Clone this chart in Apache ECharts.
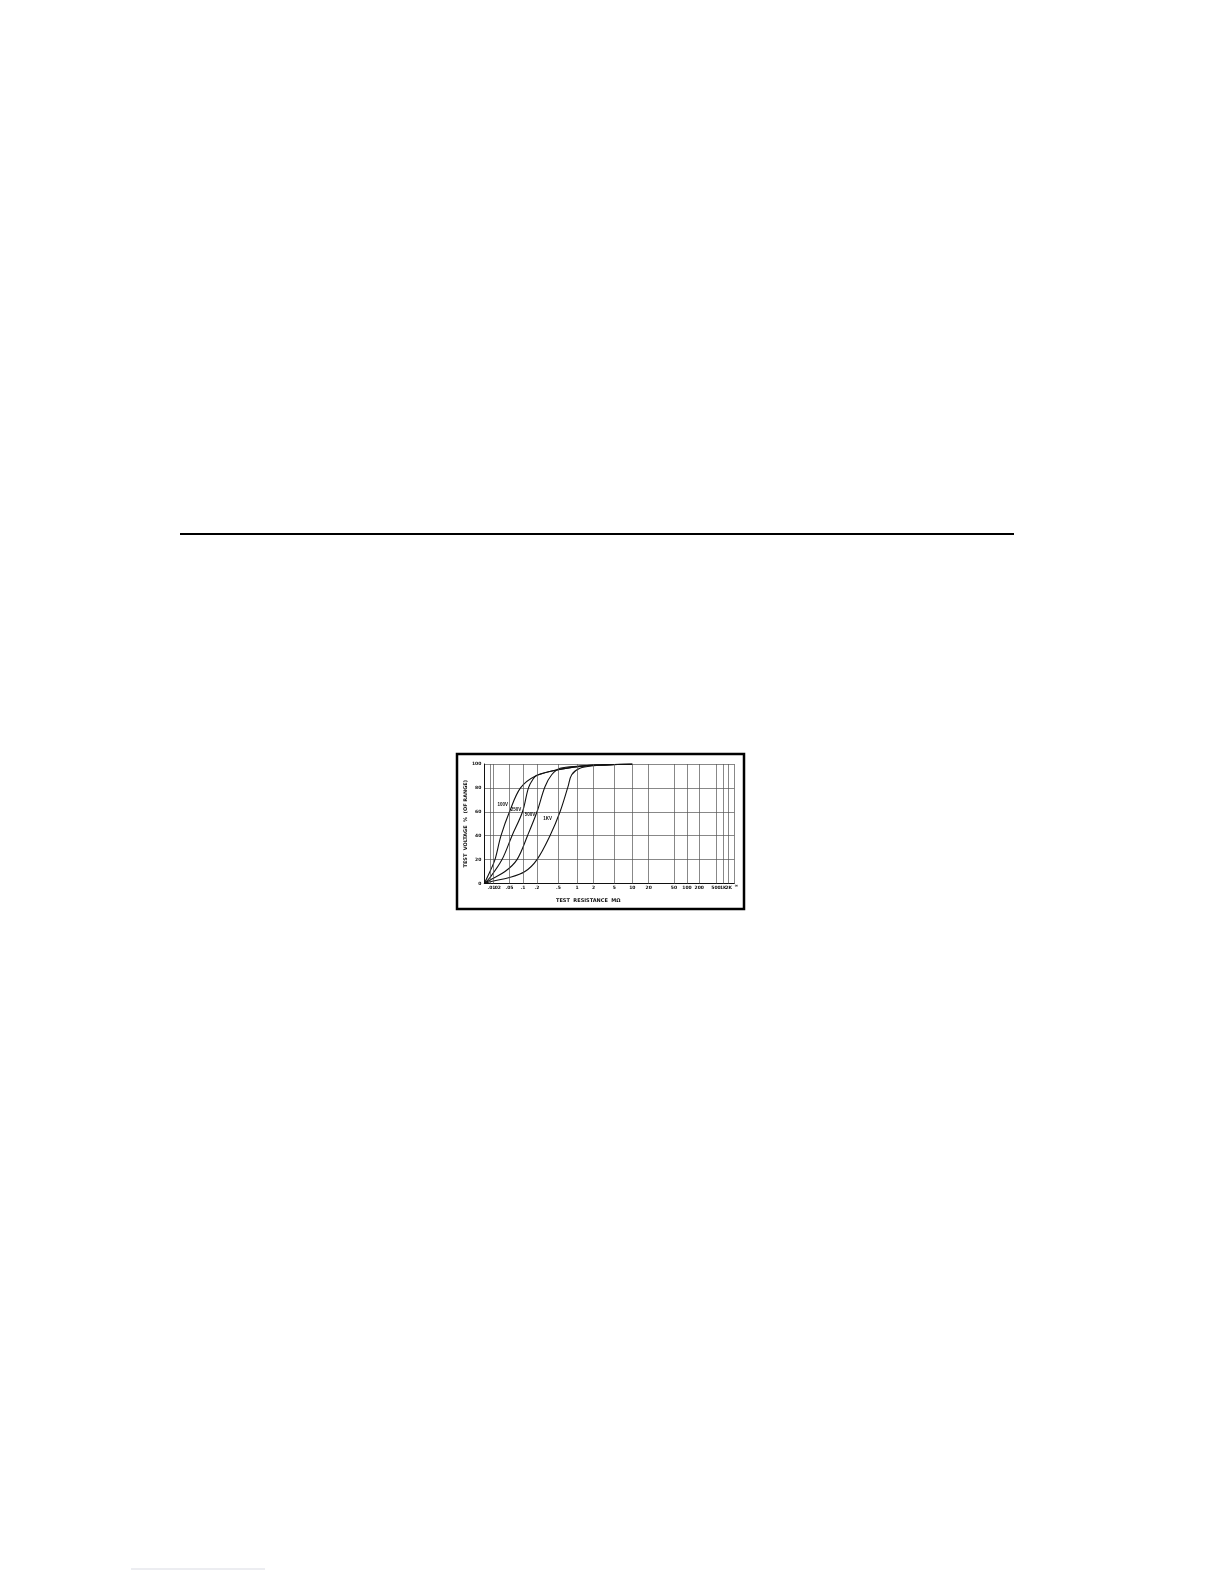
<!DOCTYPE html>
<html>
<head>
<meta charset="utf-8">
<script src="https://cdn.jsdelivr.net/npm/echarts/dist/echarts.min.js"></script>
<style>
  html, body { margin: 0; padding: 0; background: #fff; }
  #page { width: 1224px; height: 1584px; }
</style>
</head>
<body>
<div id="page"></div>
<script>
// x tick marks of the meter scale (megohms) and their printed labels
const tickValues = [0.01, 0.02, 0.05, 0.1, 0.2, 0.5, 1, 2, 5, 10, 20, 50, 100, 200, 500, 1000, 2000, Infinity]
const tickLabels = ['.01', '.02', '.05', '.1', '.2', '.5', '1', '2', '5', '10', '20', '50', '100', '200', '500', '1K', '2K', '∞']
const yTicks = [0, 20, 40, 60, 80, 100]

// curves: test resistance (MΩ) -> test voltage (% of range)
const curveNames = ['100V', '250V', '500V', '1KV']
const res100V = [0, 0.01, 0.0223, 0.0312, 0.05, 0.088, 0.186, 0.463, 1.13, 2.66, 5, 10]
const pct100V = [0, 10, 20, 40, 60, 80, 90, 95, 98, 99.2, 99.6, 100]
const res250V = [0, 0.01, 0.033, 0.0569, 0.0975, 0.131, 0.165, 0.2, 0.463, 1.13, 2.66, 5, 10]
const pct250V = [0, 5, 20, 40, 60, 80, 87.5, 90.5, 95, 98, 99.2, 99.6, 100]
const res500V = [0, 0.01, 0.039, 0.0735, 0.125, 0.2, 0.281, 0.374, 0.529, 1.13, 2.66, 5, 10]
const pct500V = [0, 3, 10, 20, 40, 60, 81, 91, 96.4, 98.2, 99.2, 99.6, 100]
const res1KV = [0, 0.01, 0.05, 0.11, 0.2, 0.348, 0.53, 0.714, 0.82, 1.13, 2, 5, 10]
const pct1KV = [0, 1.5, 5, 10, 20, 40, 60, 81, 91, 96.4, 98.5, 99.5, 100]
// where each curve name is printed [MΩ, %]
const curveLabelAt = [[0.0345, 65.7], [0.0697, 62.1], [0.141, 57.2], [0.313, 54.4]]

// the printed scale is not a clean log scale: calibration of each mark along the axis (0..250)
const scaleStops = [
  [0, 0], [0.01, 5.7], [0.02, 8.7], [0.05, 25.2], [0.1, 38.7], [0.2, 52.7], [0.5, 74.2],
  [1, 92.7], [2, 109.2], [5, 130], [10, 148], [20, 164.4], [50, 189.7], [100, 202.7],
  [200, 215], [500, 231.7], [1000, 239], [2000, 244.4], [Infinity, 250]
]
function toAxis(r) {
  for (let i = 1; i < scaleStops.length; i++) {
    const [r0, p0] = scaleStops[i - 1]
    const [r1, p1] = scaleStops[i]
    if (r <= r1) {
      let f
      if (r0 === 0) f = r / r1
      else if (r1 === Infinity) f = 1 - r0 / r
      else f = Math.log(r / r0) / Math.log(r1 / r0)
      return p0 + (p1 - p0) * f
    }
  }
  return 250
}

const curveRes = [res100V, res250V, res500V, res1KV]
const curvePct = [pct100V, pct250V, pct500V, pct1KV]
const font = 'DejaVu Sans'

const series = curveNames.map((name, i) => ({
  name: name,
  type: 'line',
  smooth: 0.35,
  showSymbol: false,
  silent: true,
  lineStyle: { color: '#111', width: 1.1 },
  data: curveRes[i].map((r, j) => [toAxis(r), curvePct[i][j]])
}))

// curve names written beside the curves
series.push({
  type: 'scatter',
  silent: true,
  symbolSize: 2,
  itemStyle: { color: 'rgba(0,0,0,0)' },
  label: {
    show: true,
    position: 'inside',
    opacity: 1,
    formatter: p => p.name,
    color: '#111',
    fontFamily: 'Liberation Sans',
    fontWeight: 'bold',
    fontSize: 4.5
  },
  labelLayout: { hideOverlap: false },
  data: curveNames.map((name, i) => ({ name: name, value: [toAxis(curveLabelAt[i][0]), curveLabelAt[i][1]] }))
})

// vertical rulings with the resistance labels underneath
series.push({
  type: 'line',
  data: [],
  silent: true,
  markLine: {
    symbol: 'none',
    silent: true,
    animation: false,
    lineStyle: { color: '#555', width: 0.7, type: 'solid' },
    label: {
      show: true,
      position: 'start',
      distance: 2,
      color: '#111',
      fontFamily: font,
      fontWeight: 'bold',
      fontSize: 4.5
    },
    data: tickValues.map((v, i) => {
      let off = [0, 0]
      if (tickLabels[i] === '.01') off = [1.5, 0]
      if (tickLabels[i] === '.02') off = [4, 0]
      if (tickLabels[i] === '∞') off = [2, -2]
      return { xAxis: toAxis(v), label: { formatter: tickLabels[i], offset: off } }
    })
  }
})

const chart = echarts.init(document.getElementById('page'))
chart.setOption({
  animation: false,
  backgroundColor: '#fff',
  grid: { left: 484.3, top: 764, width: 250, height: 119.5 },
  xAxis: {
    type: 'value',
    min: 0,
    max: 250,
    name: 'TEST  RESISTANCE  MΩ',
    nameLocation: 'middle',
    nameGap: 15,
    nameTextStyle: { color: '#111', fontFamily: font, fontWeight: 'bold', fontSize: 5, padding: [0, 42, 0, 0] },
    axisLine: { show: true, lineStyle: { color: '#111', width: 1 } },
    axisTick: { show: false },
    axisLabel: { show: false },
    splitLine: { show: false }
  },
  yAxis: {
    type: 'value',
    min: yTicks[0],
    max: yTicks[yTicks.length - 1],
    interval: 20,
    name: 'TEST  VOLTAGE  %  (OF RANGE)',
    nameLocation: 'middle',
    nameRotate: 90,
    nameGap: 14,
    nameTextStyle: { color: '#111', fontFamily: font, fontWeight: 'bold', fontSize: 5 },
    axisLine: { show: true, lineStyle: { color: '#111', width: 1 } },
    axisTick: { show: false },
    axisLabel: { color: '#111', fontFamily: font, fontWeight: 'bold', fontSize: 4.5, margin: 3 },
    splitLine: { show: true, lineStyle: { color: '#555', width: 0.7 } }
  },
  graphic: [
    // frame around the figure
    { type: 'rect', shape: { x: 457, y: 754, width: 287, height: 155 }, style: { fill: null, stroke: '#000', lineWidth: 2.5 }, silent: true },
    // page rule above the figure
    { type: 'line', shape: { x1: 180, y1: 534, x2: 1014, y2: 534 }, style: { stroke: '#000', lineWidth: 2 }, silent: true },
    // faint footnote rule
    { type: 'line', shape: { x1: 131, y1: 1569, x2: 265, y2: 1569 }, style: { stroke: '#d9dbe3', lineWidth: 1 }, silent: true }
  ],
  series: series
})
</script>
</body>
</html>
